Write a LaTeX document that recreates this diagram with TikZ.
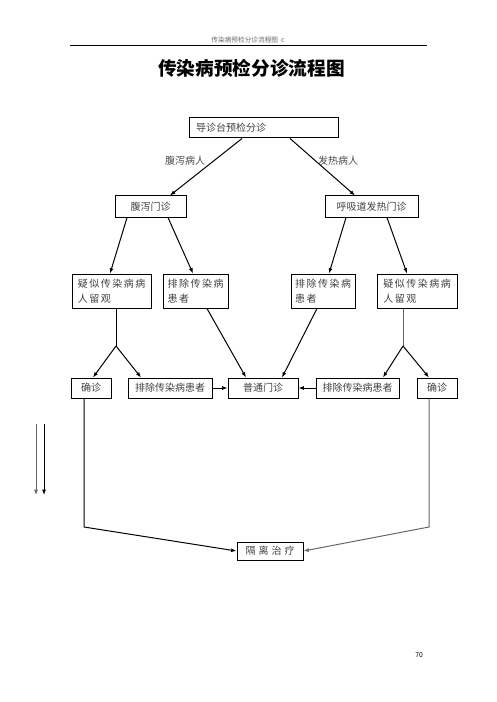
\documentclass[tikz,border=0pt]{standalone}
\usepackage{fontspec}
\setmainfont{Noto Sans CJK SC}
\newfontfamily\spaced{Noto Sans CJK SC}[LetterSpace=15]
\newfontfamily\wide{Noto Sans CJK SC}[LetterSpace=30]
\usetikzlibrary{arrows.meta,positioning,calc}
\tikzset{
  >={Latex[length=4pt,width=3pt]},
}

\begin{document}
\begin{tikzpicture}[x=0.75pt,y=-0.75pt,
  box/.style={draw, line width=0.75pt, inner sep=0pt, minimum height=15pt, text=black!75, font=\fontsize{7.5pt}{9pt}\selectfont},
  tall/.style={box, minimum height=25.5pt, align=left, font=\spaced\fontsize{7.5pt}{11.25pt}\selectfont},
  arr/.style={->, line width=0.75pt},
  lbl/.style={text=black!70, font=\fontsize{7.5pt}{9pt}\selectfont}
]
  \useasboundingbox (0,0) rectangle (496,702);

  % page head
  \node[text=black!60, font=\fontsize{5pt}{6pt}\selectfont] (head) at (248,40) {传染病预检分诊流程图\ \ c};
  \draw[line width=0.75pt] (70,46) -- (427,46);
  \node[font=\bfseries\fontsize{14pt}{16pt}\selectfont] (title) at (251.5,68) {传染病预检分诊流程图};

  % first two rows
  \node[box, text width=101.25pt, inner xsep=5.25pt, align=left] (triage) at (263.5,128) {导诊台预检分诊};
  \node[box, minimum width=53.25pt, minimum height=15.75pt] (fx) at (150.5,206.5) {腹泻门诊};
  \node[box, minimum width=69.75pt, minimum height=15.75pt] (hx) at (371.5,206.5) {呼吸道发热门诊};
  \node[lbl] (fxl) at (185,161) {腹泻病人};
  \node[lbl] (hxl) at (338,161) {发热病人};

  \node[tall, minimum width=59.25pt] (ysL) at (111.5,291) {疑似传染病病\\人留观};
  \node[tall, minimum width=48.75pt] (pcL) at (195.5,291) {排除传染病\\患者};
  \node[tall, minimum width=48pt] (pcR) at (323,291) {排除传染病\\患者};
  \node[tall, minimum width=60pt] (ysR) at (417,291) {疑似传染病病\\人留观};

  % bottom row
  \node[box, minimum width=30pt] (qzL) at (91,388) {确诊};
  \node[box, minimum width=63pt] (pc2L) at (170,388) {排除传染病患者};
  \node[box, minimum width=52.5pt] (pt) at (263,388) {普通门诊};
  \node[box, minimum width=62.25pt] (pc2R) at (357.5,388) {排除传染病患者};
  \node[box, minimum width=30pt] (qzR) at (437,388) {确诊};
  \node[box, minimum width=49.5pt, minimum height=13.5pt, font=\wide\fontsize{7.5pt}{9pt}\selectfont] (gl) at (270,551) {隔离治疗};

  \coordinate (jL) at (116,346);
  \coordinate (jR) at (403,346);
  \coordinate (cL) at (84,527);
  \coordinate (cR) at (429,527);
  \coordinate (s1a) at (36,424);
  \coordinate (s1b) at (36,495);
  \coordinate (s2a) at (44,424);
  \coordinate (s2b) at (44,495);

  \draw[arr] ([xshift=-16.1pt]triage.south) -- ([xshift=14.6pt]fx.north);
  \draw[arr] ([xshift=19.9pt]triage.south) -- ([xshift=-12.4pt]hx.north);
  \draw[arr] ([xshift=-17.6pt]fx.south) -- ([xshift=-1.1pt]ysL.north);
  \draw[arr] ([xshift=13.1pt]fx.south) -- ([xshift=-1.9pt]pcL.north);
  \draw[arr] ([xshift=-19.1pt]hx.south) -- ([xshift=4.5pt]pcR.north);
  \draw[arr] ([xshift=11.6pt]hx.south) -- ([xshift=-7.5pt]ysR.north);

  \draw[line width=0.75pt] (ysL.south -| jL) -- (jL);
  \draw[arr] (jL) -- ([xshift=1.5pt]qzL.north);
  \draw[arr] (jL) -- ([xshift=-21.75pt]pc2L.north);
  \draw[line width=0.75pt, black!60] (ysR.south -| jR) -- (jR);
  \draw[arr] (jR) -- ([xshift=19.1pt]pc2R.north);
  \draw[arr] (jR) -- ([xshift=-6pt]qzR.north);

  \draw[arr] ([xshift=8.6pt]pcL.south) -- ([xshift=-12.75pt]pt.north);
  \draw[arr] ([xshift=-4.5pt]pcR.south) -- ([xshift=14.25pt]pt.north);
  \draw[arr] (pc2L) -- (pt);
  \draw[arr] (pc2R) -- (pt);

  \draw[arr] (qzL.south -| cL) -- (cL) -- (gl.west);
  \draw[arr, black!60] (qzR.south -| cR) -- (cR) -- (gl.east);

  \draw[arr, black!60] (s1a) -- (s1b);
  \draw[arr] (s2a) -- (s2b);

  \node[font=\fontsize{5pt}{6pt}\selectfont] (pg) at (419,655) {70};
\end{tikzpicture}
\end{document}
